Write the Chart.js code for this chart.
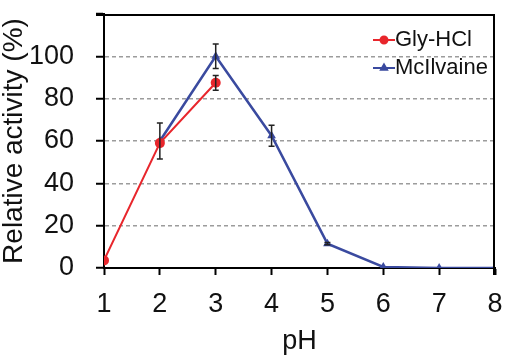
<!DOCTYPE html>
<html>
<head>
<meta charset="utf-8">
<script src="https://cdn.jsdelivr.net/npm/chart.js@4.4.0/dist/chart.umd.min.js"></script>
<style>
  html, body { margin: 0; padding: 0; background: #fff; }
  #wrap { width: 517px; height: 358px; }
</style>
</head>
<body>
<div id="wrap"><canvas id="myChart" width="517" height="358"></canvas></div>
<script>
// values
const glyPH = [1, 2, 3];
const glyActivity = [3.6, 59, 87.5];
const glyError = [0, 0, 3.5];

const mcPH = [2, 3, 4, 5, 6, 7, 8];
const mcActivity = [60, 100, 62.5, 11.5, 0.5, 0, 0];
const mcError = [8.5, 5.8, 5, 0.5, 0, 0, 0];

const xTicks = [1, 2, 3, 4, 5, 6, 7, 8];
const yTicks = [0, 20, 40, 60, 80, 100, 120];

const RED = "#e8262c";
const BLUE = "#3a4a9f";
const FONT = "'Liberation Sans', Arial, sans-serif";

function toPoints(xs, ys) {
    return xs.map((x, i) => ({ x: x, y: ys[i] }));
}

const extras = {
    id: "extras",
    afterDatasetsDraw(chart) {
        const c = chart.ctx;
        const xs = chart.scales.x, ys = chart.scales.y;
        // error bars
        chart.data.datasets.forEach(ds => {
            (ds.errors || []).forEach((e, i) => {
                if (!e) return;
                const p = ds.data[i];
                const px = xs.getPixelForValue(p.x);
                const top = ys.getPixelForValue(p.y + e);
                const bot = ys.getPixelForValue(p.y - e);
                c.save();
                c.setLineDash([]);
                c.strokeStyle = "#222";
                c.lineWidth = 1.5;
                c.beginPath();
                c.moveTo(px, top); c.lineTo(px, bot);
                c.moveTo(px - 3, top); c.lineTo(px + 3, top);
                c.moveTo(px - 3, bot); c.lineTo(px + 3, bot);
                c.stroke();
                c.restore();
            });
        });
    },
    afterDraw(chart) {
        const c = chart.ctx;
        const a = chart.chartArea;
        // box: top and right lines, set just inside the plot area
        const t = Math.round(a.top) + 1;
        const r = Math.round(a.right) - 1;
        const b = Math.round(a.bottom);
        const l = Math.round(a.left);
        c.save();
        c.setLineDash([]);
        c.fillStyle = "#000";
        c.fillRect(l - 8, t - 1, r - l + 9, 2);
        c.fillRect(r - 1, t - 1, 2, b - t + 8);
        c.restore();

        // legend with line + marker samples
        const x0 = 373, x1 = 395;
        let y = 40;
        chart.data.datasets.forEach(ds => {
            c.save();
            c.setLineDash([]);
            c.strokeStyle = ds.borderColor;
            c.fillStyle = ds.borderColor;
            c.lineWidth = 2;
            c.beginPath(); c.moveTo(x0, y); c.lineTo(x1, y); c.stroke();
            Chart.helpers.drawPoint(c, { pointStyle: ds.pointStyle, radius: 3.5, borderWidth: 1 }, (x0 + x1) / 2, y);
            c.fillStyle = "#111";
            c.font = "22px " + FONT;
            c.textBaseline = "middle";
            c.textAlign = "left";
            c.fillText(ds.label, x1, y);
            c.restore();
            y += 28;
        });
    }
};

const ctx = document.getElementById("myChart").getContext("2d");
new Chart(ctx, {
    type: "line",
    data: {
        datasets: [{
            label: "Gly-HCl",
            data: toPoints(glyPH, glyActivity),
            errors: glyError,
            borderColor: RED,
            backgroundColor: RED,
            borderWidth: 2,
            pointStyle: "circle",
            pointRadius: 5,
            pointBorderWidth: 0,
            tension: 0
        }, {
            label: "McIlvaine",
            data: toPoints(mcPH, mcActivity),
            errors: mcError,
            borderColor: BLUE,
            backgroundColor: BLUE,
            borderWidth: 2.5,
            pointStyle: "triangle",
            pointRadius: 5,
            pointBorderWidth: 0,
            tension: 0
        }]
    },
    options: {
        responsive: false,
        animation: false,
        layout: { padding: { top: 14, right: 22, left: 0, bottom: 0 } },
        plugins: {
            legend: { display: false },
            tooltip: { enabled: false }
        },
        scales: {
            x: {
                type: "linear",
                min: 1, max: 8,
                afterBuildTicks: s => { s.ticks = xTicks.map(v => ({ value: v })); },
                afterFit: s => { s.height = 90; s.paddingLeft = 0; s.paddingRight = 0; },
                grid: { drawOnChartArea: false, tickLength: 7, tickColor: "#000", tickWidth: 2 },
                border: { color: "#000", width: 2 },
                ticks: { color: "#111", font: { family: FONT, size: 27 }, padding: 13, maxRotation: 0 },
                title: { display: true, text: "pH", color: "#111", font: { family: FONT, size: 27 }, padding: { top: 0, bottom: 0 } }
            },
            y: {
                min: 0, max: 120,
                afterBuildTicks: s => { s.ticks = yTicks.map(v => ({ value: v })); },
                afterFit: s => { s.width = 104; s.paddingTop = 0; s.paddingBottom = 0; },
                grid: {
                    color: c => (c.tick.value === 0 || c.tick.value === 120) ? "rgba(0,0,0,0)" : "#9c9c9c",
                    lineWidth: 1.5,
                    tickLength: 8, tickColor: "#000", tickWidth: 2, tickBorderDash: []
                },
                border: { color: "#000", width: 2, dash: [4, 3] },
                ticks: {
                    color: "#111", font: { family: FONT, size: 27 }, padding: 22,
                    callback: v => v === 120 ? "" : v
                },
                title: { display: true, text: "Relative activity (%)", color: "#111", font: { family: FONT, size: 28, lineHeight: 1 }, padding: 0 }
            }
        }
    },
    plugins: [extras]
});
</script>
</body>
</html>
